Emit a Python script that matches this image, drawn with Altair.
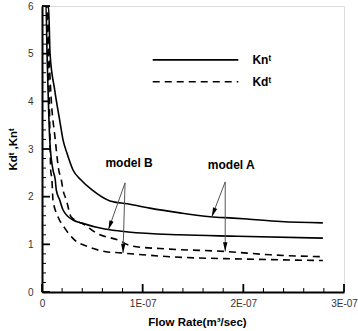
import altair as alt
import pandas as pd
import math

# Flow rate in units of 1e-7 m^3/s, and the dimensionless stiffness for each model
Q_UNIT = 1e-7

kn_a_q = [0, 0.065, 0.08, 0.126, 0.18, 0.209, 0.25, 0.308, 0.388, 0.497, 0.676, 0.85, 1.07, 1.37, 1.67, 1.9, 2.04, 2.37, 2.79]
kn_a_k = [6, 6, 5.0, 4.24, 3.55, 3.19, 2.9, 2.56, 2.35, 2.14, 1.91, 1.85, 1.76, 1.66, 1.58, 1.55, 1.53, 1.48, 1.45]

kn_b_q = [0, 0.04, 0.05, 0.06, 0.077, 0.109, 0.132, 0.142, 0.176, 0.209, 0.308, 0.388, 0.623, 0.855, 1.37, 1.94, 2.79]
kn_b_k = [6, 6, 5.0, 4.24, 3.19, 2.56, 2.35, 2.14, 1.93, 1.72, 1.51, 1.45, 1.32, 1.26, 1.20, 1.17, 1.13]

kd_a_q = [0, 0.055, 0.07, 0.086, 0.132, 0.166, 0.192, 0.209, 0.242, 0.288, 0.424, 0.537, 0.755, 0.9, 1.27, 1.82, 2.27, 2.79]
kd_a_k = [6, 6, 5.0, 4.24, 3.19, 2.56, 2.35, 2.14, 1.93, 1.58, 1.41, 1.24, 1.09, 0.96, 0.90, 0.85, 0.78, 0.74]

kd_b_q = [0, 0.045, 0.06, 0.07, 0.08, 0.086, 0.099, 0.109, 0.159, 0.226, 0.325, 0.457, 0.623, 0.785, 1.27, 2.03, 2.79]
kd_b_k = [6, 6, 5.0, 4.24, 3.19, 2.56, 2.35, 1.93, 1.58, 1.34, 1.09, 0.95, 0.85, 0.82, 0.74, 0.69, 0.66]

# Annotation arrows: label anchor -> point on a curve
arrow_model = ["model B", "model B", "model A", "model A"]
arrow_q0 = [0.825, 0.825, 1.82, 1.82]
arrow_k0 = [2.29, 2.29, 2.31, 2.31]
arrow_q1 = [0.66, 0.805, 1.687, 1.82]
arrow_k1 = [1.31, 0.82, 1.58, 0.85]

label_text = ["model B", "model A"]
label_q = [0.865, 1.88]
label_k = [2.71, 2.66]

legend_names = ["Knᵗ", "Kdᵗ"]
legend_k = [4.87, 4.41]
legend_q0 = 1.10
legend_q1 = 1.95
legend_text_q = 2.09

x_major = [i * Q_UNIT for i in range(4)]
x_minor = [i * 0.2 * Q_UNIT for i in range(16) if i % 5]
y_major = [0, 1, 2, 3, 4, 5, 6]
y_minor = [round(i * 0.2, 1) for i in range(31) if i % 5]

W, H = 302, 286
X_MAX, Y_MAX = 3 * Q_UNIT, 6
FONT = "Liberation Sans"
MAJOR_LEN, MINOR_LEN = 8, 4   # tick lengths, px

xscale = alt.Scale(domain=[0, X_MAX], nice=False, zero=False)
yscale = alt.Scale(domain=[0, Y_MAX], nice=False, zero=False)


def curve(q, k, coef, model):
    return pd.DataFrame({"q": [v * Q_UNIT for v in q], "k": k, "coef": coef, "model": model})


kn = pd.concat([curve(kn_a_q, kn_a_k, "Kn", "A"), curve(kn_b_q, kn_b_k, "Kn", "B")])
kd = pd.concat([curve(kd_a_q, kd_a_k, "Kd", "A"), curve(kd_b_q, kd_b_k, "Kd", "B")])

x_axis = alt.Axis(
    orient="bottom", values=x_major,
    labelExpr="datum.value === 0 ? '0' : format(round(datum.value / 1e-7), 'd') + 'E-07'",
    ticks=False, tickSize=0, grid=False, domainColor="black", domainWidth=2,
    labelFont=FONT, labelFontSize=10, labelColor="#333", labelPadding=6,
    labelFlush=False,
    title="Flow Rate(m³/sec)", titleFont=FONT, titleFontSize=11.5, titleFontWeight="bold",
    titleColor="black", titleX=W / 2 + 4, titleY=30, titleBaseline="middle",
)
y_axis = alt.Axis(
    orient="left", values=y_major,
    ticks=False, tickSize=0, grid=False, domainColor="black", domainWidth=2,
    labelFont=FONT, labelFontSize=10, labelColor="#333", labelPadding=9,
    title="Kdᵗ ,Knᵗ", titleFont=FONT, titleFontSize=11.5, titleFontWeight="bold",
    titleColor="black", titleX=-29, titleY=H / 2, titleBaseline="middle", titleAngle=-90,
)

# Secondary layers share the scales and the single pair of axes defined above
XN = lambda f: alt.X(f, type="quantitative", scale=xscale)
YN = lambda f: alt.Y(f, type="quantitative", scale=yscale)

kn_lines = alt.Chart(kn).mark_line(color="black", strokeWidth=1.6, interpolate="monotone", clip=True).encode(
    x=alt.X("q:Q", scale=xscale, axis=x_axis), y=alt.Y("k:Q", scale=yscale, axis=y_axis), detail="model:N"
)
kd_lines = alt.Chart(kd).mark_line(color="black", strokeWidth=1.6, strokeDash=[7, 5], interpolate="monotone", clip=True).encode(
    x=XN("q"), y=YN("k"), detail="model:N"
)

# Straight segments: annotation arrow shafts plus inward-pointing axis ticks
segments = []
for q0, k0, q1, k1 in zip(arrow_q0, arrow_k0, arrow_q1, arrow_k1):
    segments.append({"q0": q0 * Q_UNIT, "k0": k0, "q1": q1 * Q_UNIT, "k1": k1, "color": "#555", "w": 1.0})
for values, length, width in ((x_major, MAJOR_LEN, 1.8), (x_minor, MINOR_LEN, 1.0)):
    for v in values:
        segments.append({"q0": v, "k0": 0.0, "q1": v, "k1": length * Y_MAX / H, "color": "black", "w": width})
for values, length, width in ((y_major, MAJOR_LEN, 1.8), (y_minor, MINOR_LEN, 1.0)):
    for v in values:
        segments.append({"q0": 0.0, "k0": v, "q1": length * X_MAX / W, "k1": v, "color": "black", "w": width})
segments = pd.DataFrame(segments)

segment_rules = alt.Chart(segments).mark_rule().encode(
    x=XN("q0"), y=YN("k0"), x2="q1", y2="k1",
    color=alt.Color("color:N", scale=None),
    strokeWidth=alt.StrokeWidth("w:Q", scale=None),
)

# Arrow heads, rotated along each shaft
px_per_q = W / X_MAX
px_per_k = H / Y_MAX
angles = []
for q0, k0, q1, k1 in zip(arrow_q0, arrow_k0, arrow_q1, arrow_k1):
    dx = (q1 - q0) * Q_UNIT * px_per_q
    dy = -(k1 - k0) * px_per_k
    angles.append(math.degrees(math.atan2(dx, -dy)) % 360)

heads = pd.DataFrame({
    "model": arrow_model,
    "q1": [v * Q_UNIT for v in arrow_q1], "k1": arrow_k1,
    "angle": angles,
})
arrow_heads = alt.Chart(heads).mark_point(
    shape="M0,0L-0.55,2.3L0.55,2.3Z", filled=True, color="black", opacity=1, size=64
).encode(x=XN("q1"), y=YN("k1"), angle=alt.Angle("angle:Q", scale=None))

labels = alt.Chart(pd.DataFrame({
    "text": label_text, "q": [v * Q_UNIT for v in label_q], "k": label_k
})).mark_text(font=FONT, fontSize=12, fontWeight="bold", color="black").encode(
    x=XN("q"), y=YN("k"), text="text:N"
)

# Line-style key
legend_df = pd.DataFrame({
    "name": legend_names, "k": legend_k,
    "q0": [legend_q0 * Q_UNIT] * 2, "q1": [legend_q1 * Q_UNIT] * 2,
    "qt": [legend_text_q * Q_UNIT] * 2,
})
legend_solid = alt.Chart(legend_df.iloc[[0]]).mark_rule(color="black", strokeWidth=1.6).encode(
    x=XN("q0"), x2="q1", y=YN("k")
)
legend_dashed = alt.Chart(legend_df.iloc[[1]]).mark_rule(color="black", strokeWidth=1.6, strokeDash=[7, 5]).encode(
    x=XN("q0"), x2="q1", y=YN("k")
)
legend_text = alt.Chart(legend_df).mark_text(
    font=FONT, fontSize=12, fontWeight="bold", color="black", align="left", baseline="middle"
).encode(x=XN("qt"), y=YN("k"), text="name:N")

chart = alt.layer(
    kn_lines, kd_lines, segment_rules, arrow_heads, labels,
    legend_solid, legend_dashed, legend_text,
).properties(
    width=W, height=H,
    autosize=alt.AutoSizeParams(type="none"),
    padding={"left": 42, "top": 6, "right": 14, "bottom": 39},
).configure_view(stroke=None).configure(background="white")

chart.save("out.html", embed_options={"renderer": "svg", "actions": False})
